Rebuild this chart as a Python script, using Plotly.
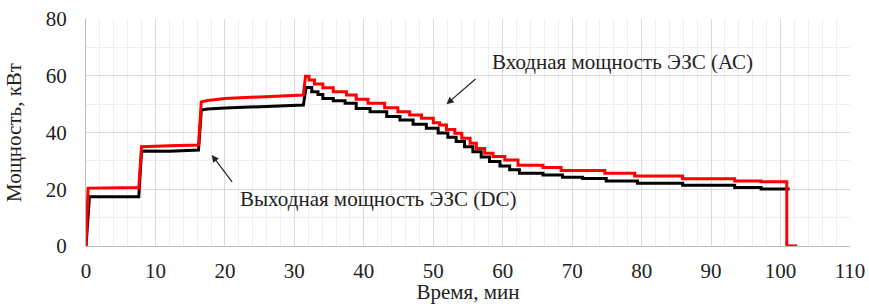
import plotly.graph_objects as go

# Input power (AC), red
t_ac = [0, 0.3, 7.6, 8.0, 12.0, 16.2, 16.6, 17.5, 20.0, 25.0, 31.3, 31.6,
        32.1, 32.1, 32.9, 32.9, 34.1, 34.1, 35.6, 35.6, 37.5, 37.5, 38.9, 38.9,
        40.6, 40.6, 43.0, 43.0, 44.9, 44.9, 46.6, 46.6, 48.3, 48.3, 50.0, 50.0,
        50.9, 50.9, 51.9, 51.9, 53.1, 53.1, 54.1, 54.1, 55.3, 55.3, 56.2, 56.2,
        57.4, 57.4, 58.6, 58.6, 60.3, 60.3, 62.2, 62.2, 65.8, 65.8, 68.4, 68.4,
        74.7, 74.7, 79.0, 79.0, 85.9, 85.9, 93.4, 93.4, 97.2, 97.2, 100.9, 100.9, 102.4]
p_ac = [0, 20.4, 20.6, 35.0, 35.3, 35.6, 50.8, 51.3, 52.0, 52.5, 53.2, 59.8,
        59.8, 58.5, 58.5, 57.1, 57.1, 55.8, 55.8, 54.4, 54.4, 53.2, 53.2, 51.7,
        51.7, 50.3, 50.3, 48.7, 48.7, 47.3, 47.3, 46.2, 46.2, 45.0, 45.0, 43.4,
        43.4, 42.6, 42.6, 41.1, 41.1, 39.7, 39.7, 38.0, 38.0, 36.2, 36.2, 34.4,
        34.4, 32.7, 32.7, 31.5, 31.5, 30.3, 30.3, 28.5, 28.5, 27.7, 27.7, 26.6,
        26.6, 25.6, 25.6, 24.7, 24.7, 23.7, 23.7, 22.9, 22.9, 22.6, 22.6, 0, 0]

# Output power (DC), black
t_dc = [0, 0.5, 7.6, 8.0, 12.0, 16.2, 16.6, 17.5, 20.0, 25.0, 31.3, 31.7,
        32.5, 32.5, 33.4, 33.4, 34.1, 34.1, 35.6, 35.6, 37.3, 37.3, 38.9, 38.9,
        40.9, 40.9, 43.3, 43.3, 45.2, 45.2, 47.1, 47.1, 49.0, 49.0, 50.7, 50.7,
        52.1, 52.1, 53.3, 53.3, 54.5, 54.5, 55.7, 55.7, 56.9, 56.9, 58.1, 58.1,
        59.6, 59.6, 61.0, 61.0, 62.4, 62.4, 65.8, 65.8, 68.6, 68.6, 71.5, 71.5,
        74.9, 74.9, 79.4, 79.4, 85.9, 85.9, 93.4, 93.4, 97.2, 97.2, 101.3]
p_dc = [0, 17.4, 17.4, 33.5, 33.4, 33.8, 47.9, 48.3, 48.6, 49.0, 49.7, 55.9,
        55.9, 54.4, 54.4, 53.4, 53.4, 52.0, 52.0, 51.2, 51.2, 50.3, 50.3, 48.5,
        48.5, 47.3, 47.3, 45.6, 45.6, 44.4, 44.4, 42.9, 42.9, 41.5, 41.5, 39.8,
        39.8, 38.3, 38.3, 36.8, 36.8, 35.0, 35.0, 33.2, 33.2, 31.4, 31.4, 29.8,
        29.8, 28.2, 28.2, 26.9, 26.9, 25.6, 25.6, 25.0, 25.0, 24.2, 24.2, 23.8,
        23.8, 22.9, 22.9, 22.1, 22.1, 21.4, 21.4, 20.6, 20.6, 20.1, 20.1]

x_ticks = [0, 10, 20, 30, 40, 50, 60, 70, 80, 90, 100, 110]
y_ticks = [0, 20, 40, 60, 80]

label_ac = "Входная мощность ЭЗС (АС)"
label_dc = "Выходная мощность ЭЗС (DC)"
x_title = "Время, мин"
y_title = "Мощность, кВт"

FONT = "serif"
TXT = "#222222"
FS = 21

fig = go.Figure()
fig.add_trace(go.Scatter(x=t_dc, y=p_dc, mode="lines",
                         line=dict(color="#000000", width=3), name=label_dc))
fig.add_trace(go.Scatter(x=t_ac, y=p_ac, mode="lines",
                         line=dict(color="#ff0000", width=3), name=label_ac))

fig.add_annotation(x=51.9, y=50.0, ax=56.3, ay=59.3, xref="x", yref="y",
                   axref="x", ayref="y", text="", showarrow=True,
                   arrowhead=2, arrowsize=1.2, arrowwidth=1.2, arrowcolor=TXT)
fig.add_annotation(x=58.1, y=64.8, xref="x", yref="y", text=label_ac,
                   showarrow=False, xanchor="left", yanchor="middle",
                   font=dict(family=FONT, size=FS, color=TXT))
fig.add_annotation(x=18.1, y=32.1, ax=21.2, ay=22.1, xref="x", yref="y",
                   axref="x", ayref="y", text="", showarrow=True,
                   arrowhead=2, arrowsize=1.2, arrowwidth=1.2, arrowcolor=TXT)
fig.add_annotation(x=21.9, y=16.6, xref="x", yref="y", text=label_dc,
                   showarrow=False, xanchor="left", yanchor="middle",
                   font=dict(family=FONT, size=FS, color=TXT))

fig.update_xaxes(range=[0, 110], tickvals=x_ticks, ticktext=[str(v) for v in x_ticks],
                 showgrid=True, gridcolor="#d9d9d9", gridwidth=1,
                 minor=dict(dtick=2, showgrid=True, gridcolor="#eeeeee", gridwidth=1),
                 showline=True, linecolor="#bfbfbf", linewidth=1,
                 zeroline=False, ticks="", ticklabelstandoff=6, automargin=False,
                 ticklabeloverflow="allow",
                 tickfont=dict(family=FONT, size=FS, color=TXT),
                 title=dict(text=x_title, font=dict(family=FONT, size=FS, color=TXT), standoff=0))
fig.update_yaxes(range=[0, 80], tickvals=y_ticks, ticktext=[str(v) for v in y_ticks],
                 showgrid=True, gridcolor="#d9d9d9", gridwidth=1,
                 minor=dict(dtick=10, showgrid=True, gridcolor="#eeeeee", gridwidth=1),
                 showline=True, linecolor="#bfbfbf", linewidth=1,
                 zeroline=False, ticks="", ticklabelstandoff=14, automargin=False,
                 ticklabeloverflow="allow",
                 tickfont=dict(family=FONT, size=FS, color=TXT),
                 title=dict(text=y_title, font=dict(family=FONT, size=FS, color=TXT), standoff=18))

fig.update_layout(width=869, height=304, showlegend=False,
                  font=dict(family=FONT),
                  margin=dict(l=86, r=19, t=19, b=58),
                  plot_bgcolor="white", paper_bgcolor="white")

# remove the browser's default body margin so the figure fills the window exactly
fig.write_html("out.html",
               config={"displayModeBar": False, "staticPlot": True},
               post_script="document.body.style.margin='0px';"
                           "document.body.style.overflow='hidden';")
